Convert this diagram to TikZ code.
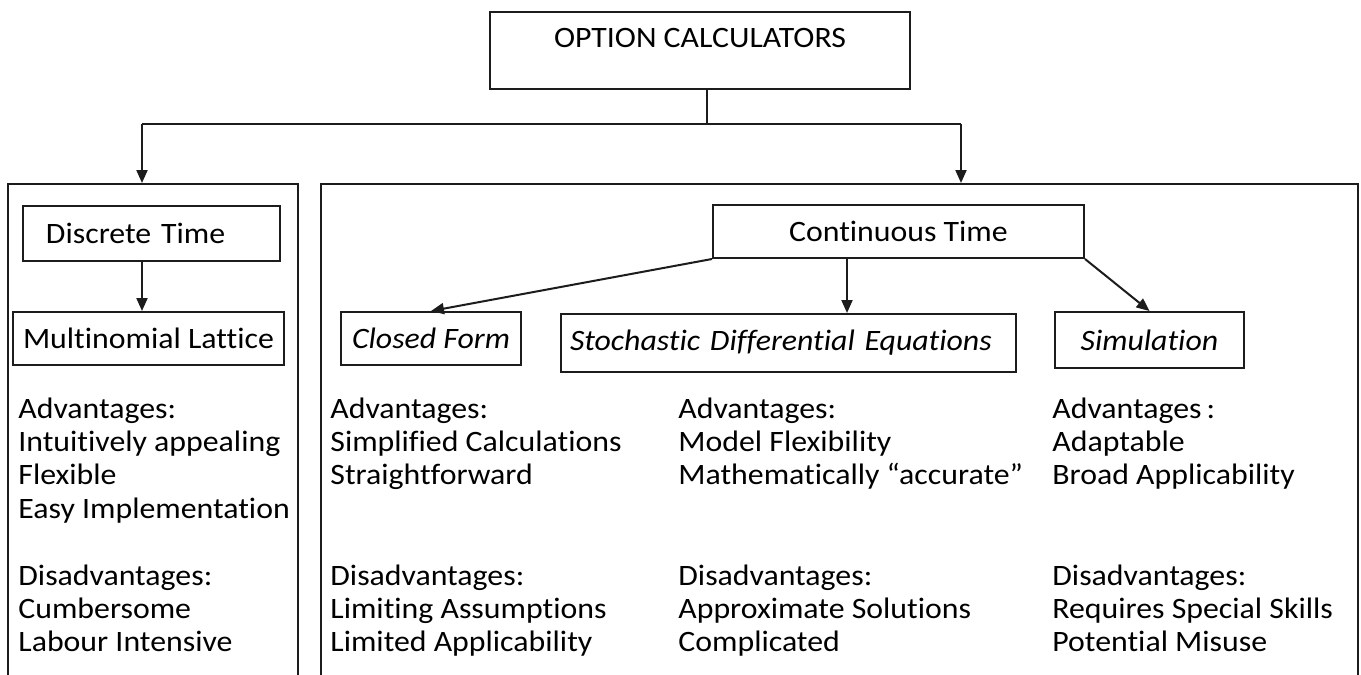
\documentclass[tikz,border=0pt]{standalone}
\usepackage{fontspec}
\setmainfont{Carlito}[FakeStretch=1.075, Ligatures=NoCommon]
\usetikzlibrary{arrows.meta, positioning, calc}
\definecolor{linec}{HTML}{1c1c1c}
\newcommand{\boxfont}{\fontsize{14.8}{16.8}\selectfont}

\begin{document}
\begin{tikzpicture}[
  x=0.5pt, y=-0.5pt,
  box/.style={draw=linec, line width=1pt, minimum height=26.5pt, inner sep=2pt, align=center, font=\boxfont},
  panel/.style={draw=linec, line width=1pt, anchor=north, minimum height=320pt},
  txt/.style={anchor=base west, inner sep=0pt, font=\boxfont},
  arr/.style={-{Triangle[length=6.5pt, width=5.5pt]}, line width=1pt, linec},
  ln/.style={line width=1pt, linec}
]
\useasboundingbox (0,0) rectangle (1361,675);

% top box and the two panels
\node[box, minimum width=210pt, minimum height=38.5pt, text height=10pt, text depth=13.1pt] (optcalc) at (700,50.5) {OPTION CALCULATORS};
\node[panel, minimum width=145pt] (discpanel) at (153,183) {};
\node[panel, minimum width=518.5pt] (contpanel) at (839.5,183) {};

% discrete time side
\node[box, minimum width=128.5pt, minimum height=27.5pt, text width=105.5pt, inner xsep=11.5pt, align=left] (disc) at (151.5,233.5) {Discrete Time};
\node[box, minimum width=135.5pt] (multi) at (148.5,338.5) {Multinomial Lattice};

% continuous time side
\node[box, minimum width=185.5pt] (cont) at (898.5,231.5) {Continuous Time};
\node[box, minimum width=90pt, font=\boxfont\itshape] (closed) at (431,338.5) {Closed Form};
\node[box, minimum width=227.5pt, minimum height=29pt, text width=218.5pt, inner xsep=4.5pt, align=left, font=\boxfont\itshape] (sde) at (788.5,343) {Stochastic Differential Equations};
\node[box, minimum width=94.5pt, minimum height=28pt, font=\boxfont\itshape] (sim) at (1149.5,340) {Simulation};

% connectors
\coordinate (lfork) at (142,124);
\coordinate (rfork) at (961,124);
\draw[ln] ([xshift=3.5pt]optcalc.south) -- ([xshift=3.5pt]optcalc.south |- lfork);
\draw[ln] (lfork) -- (rfork);
\draw[arr] (lfork) -- (lfork |- discpanel.north);
\draw[arr] (rfork) -- (rfork |- contpanel.north);
\draw[arr] (disc.south -| lfork) -- (multi.north -| lfork);
\draw[arr] (cont.south west) -- (closed.north);
\draw[arr] ([xshift=-25.75pt]cont.south) -- ([xshift=-25.75pt]cont.south |- sde.north);
\draw[arr] (cont.south east) -- (sim.north);

% advantages / disadvantages, one line per node
\foreach \cx/\advs/\diss in {
  18/{Advantages:,Intuitively appealing,Flexible,Easy Implementation}/{Disadvantages:,Cumbersome,Labour Intensive},
  330/{Advantages:,Simplified Calculations,Straightforward}/{Disadvantages:,Limiting Assumptions,Limited Applicability},
  678/{Advantages:,Model Flexibility,Mathematically “accurate”}/{Disadvantages:,Approximate Solutions,Complicated},
  1052/{Advantages\,:,Adaptable,Broad Applicability}/{Disadvantages:,Requires Special Skills,Potential Misuse}}
{
  \foreach \t [count=\i from 0] in \advs
    \node[txt] (adv\cx-\i) at (\cx,418+33.4*\i) {\t};
  \foreach \t [count=\i from 0] in \diss
    \node[txt] (dis\cx-\i) at (\cx,585+33.4*\i) {\t};
}
\end{tikzpicture}
\end{document}
